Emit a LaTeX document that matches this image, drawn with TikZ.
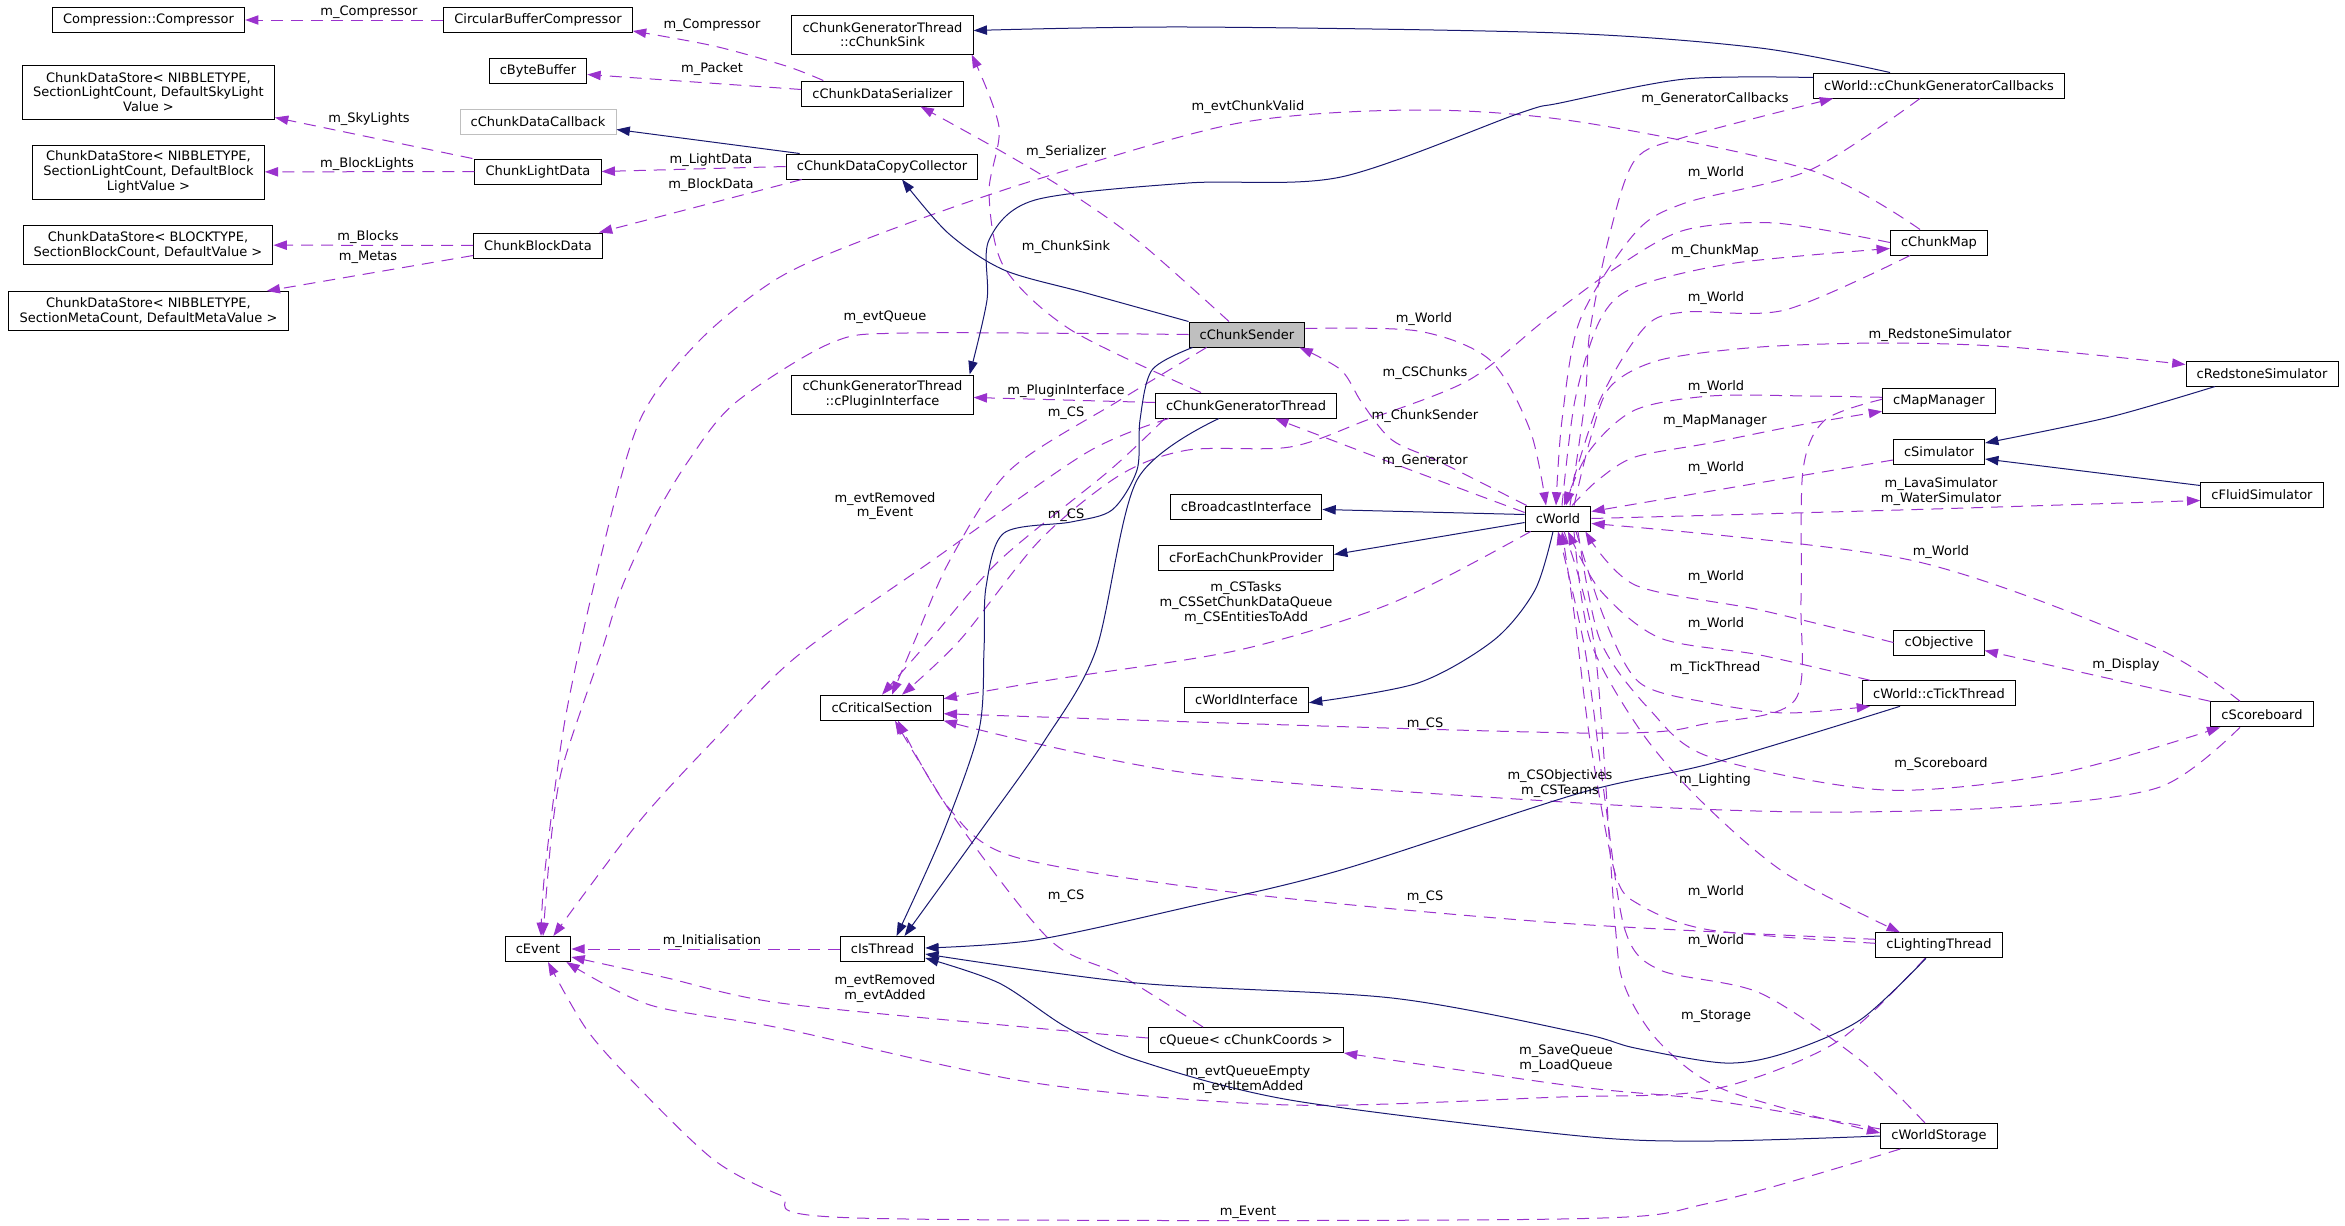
\documentclass[tikz,border=0pt]{standalone}
\usepackage{fontspec}
\setmainfont{DejaVu Sans}
\usetikzlibrary{arrows.meta,calc}
\definecolor{memberc}{RGB}{154,50,205}
\definecolor{inhc}{RGB}{25,25,112}
\definecolor{shadegray}{RGB}{191,191,191}

\begin{document}
\begin{tikzpicture}[x=0.75pt,y=-0.75pt,>={Triangle[length=10pt,width=7pt]},cls/.style={draw,line width=0.75pt,fill=white,align=center,inner xsep=8pt,inner ysep=3.75pt,minimum height=18.75pt,font=\fontsize{9.75}{11}\selectfont},member/.style={->,draw=memberc,line width=0.75pt,dash pattern=on 9pt off 6pt},inherit/.style={->,draw=inhc,line width=0.75pt},lbl/.style={inner sep=0pt,align=center,font=\fontsize{9.75}{11}\selectfont}]
\useasboundingbox (0,0) rectangle (2345,1225);
\node[cls] (comp) at (148.5,20) {Compression::Compressor}; \node[cls] (cbc) at (538,20) {CircularBufferCompressor}; \node[cls] (bytebuf) at (538,70.5) {cByteBuffer};
\node[cls,minimum height=40.5pt] (skystore) at (148.5,92) {ChunkDataStore< NIBBLETYPE,\\ SectionLightCount, DefaultSkyLight\\ Value >}; \node[cls,draw=shadegray] (callback) at (538,121.5) {cChunkDataCallback};
\node[cls,minimum height=40.5pt] (blstore) at (148.5,172) {ChunkDataStore< NIBBLETYPE,\\ SectionLightCount, DefaultBlock\\ LightValue >}; \node[cls] (lightdata) at (538,171.5) {ChunkLightData};
\node[cls,minimum height=29.25pt] (blockstore) at (148,245) {ChunkDataStore< BLOCKTYPE,\\ SectionBlockCount, DefaultValue >}; \node[cls] (blockdata) at (538,245.5) {ChunkBlockData};
\node[cls,minimum height=29.25pt] (metastore) at (148.5,311) {ChunkDataStore< NIBBLETYPE,\\ SectionMetaCount, DefaultMetaValue >};
\node[cls,minimum height=29.25pt] (sink) at (882.5,34.5) {cChunkGeneratorThread\\ ::cChunkSink}; \node[cls] (serializer) at (882.5,93.5) {cChunkDataSerializer}; \node[cls] (collector) at (882,166.5) {cChunkDataCopyCollector};
\node[cls,minimum height=29.25pt] (plugin) at (882.5,394.5) {cChunkGeneratorThread\\ ::cPluginInterface}; \node[cls] (critsec) at (882,707.7) {cCriticalSection}; \node[cls] (isthread) at (882.5,949) {cIsThread}; \node[cls] (event) at (538,949) {cEvent};
\node[cls,fill=shadegray] (sender) at (1247,334.5) {cChunkSender}; \node[cls] (genthread) at (1246,405.5) {cChunkGeneratorThread}; \node[cls] (broadcast) at (1246,506.5) {cBroadcastInterface}; \node[cls] (eachchunk) at (1246,557.5) {cForEachChunkProvider};
\node[cls] (worldif) at (1246.5,699.7) {cWorldInterface}; \node[cls] (queue) at (1246,1040) {cQueue< cChunkCoords >}; \node[cls] (world) at (1558,518.5) {cWorld};
\node[cls] (callbacks) at (1939,85.5) {cWorld::cChunkGeneratorCallbacks}; \node[cls] (chunkmap) at (1939,242.5) {cChunkMap}; \node[cls] (mapmgr) at (1939,401.3) {cMapManager}; \node[cls] (simulator) at (1939,452) {cSimulator};
\node[cls] (objective) at (1939,642.5) {cObjective}; \node[cls] (tickthread) at (1939,693.3) {cWorld::cTickThread}; \node[cls] (lighting) at (1939,945.3) {cLightingThread}; \node[cls] (storage) at (1939,1136) {cWorldStorage};
\node[cls] (redstone) at (2262,373.5) {cRedstoneSimulator}; \node[cls] (fluid) at (2262,494.5) {cFluidSimulator}; \node[cls] (scoreboard) at (2262,714.3) {cScoreboard};
\draw[member] (cbc) -- (comp); \draw[member] plot[smooth] coordinates {($(serializer.north west)+(22,0)$) (786,66) (714,46) ($(cbc.south east)+(0,-2)$)}; \draw[member] ($(serializer.west)+(0,-4)$) -- ($(bytebuf.east)+(0,4)$);
\draw[member] ($(lightdata.north west)+(-2,0)$) -- ($(skystore.south east)+(0,-2)$); \draw[member] (lightdata) -- (blstore); \draw[member] (collector.west) -- (lightdata.east); \draw[member] ($(collector.south west)+(16,0)$) -- ($(blockdata.north east)+(-4,0)$);
\draw[member] (blockdata) -- (blockstore); \draw[member] ($(blockdata.west)+(0,10)$) -- ($(metastore.north east)+(-22,0)$);
\draw[member] plot[smooth] coordinates {($(chunkmap.north)+(-19,0)$) (1810,170) (1580,122) (1418,110) (1239,123) (1035,180) (882,233) (780,277) (700,340) (640,420) (600,560) (565,720) (545,870) ($(event.north)+(3,0)$)};
\draw[member] plot[smooth] coordinates {($(sender.north)+(-18,0)$) (1137,240) (1066,190) (999,150) ($(serializer.south)+(38,0)$)};
\draw[member] plot[smooth] coordinates {($(genthread.north)+(-45,0)$) (1071,330) (1004,267) (989,193) (999,127) ($(sink.south east)+(-2,0)$)};
\draw[member] plot[smooth] coordinates {(sender.west) (907,333) (831,343) (735,403) (689,460) (653,520) (622,587) (602,650) (582,707) (561,773) (551,840) ($(event.north)+(5,0)$)};
\draw[member] plot[smooth] coordinates {($(sender.east)+(0,-6)$) (1418,331) (1490,360) (1530,430) ($(world.north)+(-12,0)$)};
\draw[member] plot[smooth] coordinates {($(world.north)+(12,0)$) (1585,400) (1590,330) (1610,233) (1635,160) (1685,137) ($(callbacks.south west)+(20,0)$)};
\draw[member] plot[smooth] coordinates {($(callbacks.south)+(-19,0)$) (1810,170) (1685,203) (1635,233) (1580,320) (1562,420) ($(world.north)+(-2,0)$)};
\draw[member] plot[smooth] coordinates {($(world.north)+(4,0)$) (1575,400) (1600,320) (1635,287) (1735,263) ($(chunkmap.west)+(0,6)$)};
\draw[member] plot[smooth] coordinates {($(chunkmap.south)+(-29,0)$) (1785,310) (1685,312) (1645,327) (1600,400) ($(world.north)+(8,0)$)};
\draw[member] ($(genthread.west)+(0,-3)$) -- ($(plugin.east)+(0,3)$);
\draw[member] plot[smooth] coordinates {($(sender.south west)+(18,0)$) (1120,400) (1010,470) (950,560) (915,640) ($(critsec.north)+(10,0)$)};
\draw[member] plot[smooth] coordinates {(chunkmap.west) (1775,223) (1685,230) (1620,265) (1545,320) (1469,380) (1367,420) (1290,447) (1188,450) (1120,475) (1040,540) (960,640) ($(critsec.north)+(20,0)$)};
\draw[member] plot[smooth] coordinates {($(world.north west)+(2,0)$) (1440,462) (1392,440) (1362,403) (1341,370) ($(sender.south east)+(-6,0)$)};
\draw[member] plot[smooth] coordinates {($(world.west)+(0,-6)$) (1400,466) ($(genthread.south)+(29,0)$)};
\draw[member] plot[smooth] coordinates {($(genthread.south west)+(14,0)$) (1086,453) (933,560) (796,657) (714,740) (638,823) ($(event.north east)+(-18,0)$)};
\draw[member] plot[smooth] coordinates {($(genthread.south west)+(10,0)$) (1110,470) (1000,560) (930,640) (critsec.north)};
\draw[member] plot[smooth] coordinates {($(world.south west)+(6,0)$) (1392,603) (1239,650) (1050,680) ($(critsec.east)+(0,-9)$)};
\draw[member] plot[smooth] coordinates {($(world.north)+(16,0)$) (1590,440) (1610,387) (1660,360) (1760,347) (1885,343) (2010,347) ($(redstone.west)+(0,-9)$)};
\draw[member] plot[smooth] coordinates {($(mapmgr.west)+(0,-4)$) (1810,396) (1710,396) (1635,410) (1590,450) ($(world.north)+(6,0)$)};
\draw[member] plot[smooth] coordinates {($(world.north)+(14,0)$) (1598,480) (1635,457) (1710,443) (1800,425) ($(mapmgr.west)+(0,10)$)};
\draw[member] ($(simulator.west)+(0,8)$) -- ($(world.east)+(0,-7)$); \draw[member] plot[smooth] coordinates {(world.east) (1900,510) ($(fluid.west)+(0,6)$)};
\draw[member] plot[smooth] coordinates {($(scoreboard.north)+(-22,0)$) (2150,645) (1910,560) ($(world.east)+(0,5)$)};
\draw[member] plot[smooth] coordinates {(objective.west) (1760,610) (1635,585) ($(world.south east)+(-6,0)$)};
\draw[member] plot[smooth] coordinates {($(tickthread.north west)+(8,0)$) (1760,655) (1660,638) (1600,590) ($(world.south)+(10,0)$)};
\draw[member] plot[smooth] coordinates {($(mapmgr.west)+(0,-2)$) (1825,420) (1803,470) (1801,600) (1795,700) (1710,723) (1580,733) ($(critsec.east)+(0,6)$)};
\draw[member] plot[smooth] coordinates {($(scoreboard.south)+(-22,0)$) (2160,787) (2010,807) (1810,812) (1580,803) (1188,773) (critsec.south east)};
\draw[member] plot[smooth] coordinates {($(queue.north)+(-43,0)$) (1120,975) (1050,940) (958,823) ($(critsec.south)+(13,0)$)};
\draw[member] plot[smooth] coordinates {($(lighting.west)+(0,-6)$) (1560,923) (1239,893) (1015,857) (948,807) ($(critsec.south)+(16,0)$)};
\draw[member] plot[smooth] coordinates {($(world.south)+(18,0)$) (1605,620) (1640,683) (1710,703) (1785,713) ($(tickthread.south west)+(8,0)$)};
\draw[member] ($(scoreboard.north west)$) -- ($(objective.east)+(0,8)$);
\draw[member] plot[smooth] coordinates {($(world.south)+(20,0)$) (1600,640) (1650,710) (1710,757) (1885,790) (2060,773) ($(scoreboard.south west)+(10,0)$)};
\draw[member] plot[smooth] coordinates {($(world.south)+(16,0)$) (1590,640) (1640,730) (1700,800) (1785,873) ($(lighting.north)+(-39,0)$)};
\draw[member] plot[smooth] coordinates {($(lighting.west)+(0,-2)$) (1710,930) (1640,905) (1615,873) (1590,740) (1575,620) ($(world.south)+(4,0)$)};
\draw[member] (isthread) -- (event);
\draw[member] plot[smooth] coordinates {($(queue.west)+(0,-2)$) (1035,1028) (780,1003) (663,977) ($(event.east)+(0,8)$)};
\draw[member] plot[smooth] coordinates {($(lighting.south)+(-14,0)$) (1835,1043) (1710,1090) (1560,1097) (1290,1105) (1035,1083) (780,1028) (650,1005) ($(event.south east)+(-5,0)$)};
\draw[member] plot[smooth] coordinates {($(storage.west)+(0,-7)$) (1710,1100) (1580,1087) (queue.south east)};
\draw[member] plot[smooth] coordinates {($(storage.south west)+(20,0)$) (1710,1203) (1560,1219) (857,1218) (780,1195) (714,1160) (638,1087) (587,1030) ($(event.south)+(10,0)$)};
\draw[member] plot[smooth] coordinates {($(storage.north)+(-14,0)$) (1860,1060) (1760,993) (1660,970) (1625,930) (1605,800) (1585,650) (world.south)};
\draw[member] plot[smooth] coordinates {($(world.south)+(6,0)$) (1595,650) (1615,923) (1625,987) (1660,1043) (1725,1090) ($(storage.west)+(0,-3)$)};
\draw[inherit] ($(collector.north west)+(14,0)$) -- ($(callback.east)+(0,8)$);
\draw[inherit] plot[smooth] coordinates {(sender.north west) (1086,293) (1004,270) (948,233) ($(collector.south)+(20,0)$)};
\draw[inherit] plot[smooth] coordinates {($(callbacks.north)+(-49,0)$) (1760,48) (1560,33) (1188,27) ($(sink.east)+(0,-4)$)};
\draw[inherit] plot[smooth] coordinates {($(callbacks.west)+(0,-8)$) (1685,79) (1560,103) (1520,113) (1341,177) (1188,183) (1035,200) (989,240) (987,300) ($(plugin.north east)+(-4,0)$)};
\draw[inherit] ($(world.west)+(0,-4)$) -- ($(broadcast.east)+(0,3)$); \draw[inherit] ($(world.west)+(0,4)$) -- ($(eachchunk.east)+(0,-3)$);
\draw[inherit] plot[smooth] coordinates {($(world.south)+(-5,0)$) (1535,590) (1494,640) (1418,683) ($(worldif.east)+(0,3)$)};
\draw[inherit] plot[smooth] coordinates {($(redstone.south)+(-47,0)$) (2110,417) ($(simulator.east)+(0,-9)$)}; \draw[inherit] ($(fluid.north west)+(0,4)$) -- ($(simulator.east)+(0,7)$);
\draw[inherit] plot[smooth] coordinates {($(sender.south west)+(4,0)$) (1152,370) (1140,420) (1137,470) (1112,510) (1071,522) (1004,533) (986,587) (984,650) (979,730) (943,833) ($(isthread.north)+(14,0)$)};
\draw[inherit] plot[smooth] coordinates {($(genthread.south)+(-27,0)$) (1137,480) (1096,650) (1045,740) (979,833) ($(isthread.north)+(22,0)$)};
\draw[inherit] plot[smooth] coordinates {($(tickthread.south)+(-39,0)$) (1713,763) (1580,793) (1341,870) (1188,907) (1035,940) ($(isthread.east)+(0,-1)$)};
\draw[inherit] plot[smooth] coordinates {($(lighting.south)+(-13,0)$) (1860,1020) (1785,1053) (1725,1063) (1635,1048) (1580,1033) (1392,998) (1137,983) ($(isthread.east)+(0,5)$)};
\draw[inherit] plot[smooth] coordinates {(storage.west) (1710,1141) (1580,1136) (1290,1100) (1137,1060) (1066,1027) (999,983) ($(isthread.east)+(0,9)$)};
\node[lbl] (lcomp1) at (369,12) {m\_Compressor}; \node[lbl] (lcomp2) at (712,25) {m\_Compressor}; \node[lbl] (lpacket) at (712,69) {m\_Packet}; \node[lbl] (lsky) at (369,119) {m\_SkyLights};
\node[lbl] (lblight) at (367,164) {m\_BlockLights}; \node[lbl] (llight) at (711,160) {m\_LightData}; \node[lbl] (lbdata) at (711,185) {m\_BlockData}; \node[lbl] (lblocks) at (368,237) {m\_Blocks}; \node[lbl] (lmetas) at (368,257) {m\_Metas};
\node[lbl] (lvalid) at (1248,107) {m\_evtChunkValid}; \node[lbl] (lser) at (1066,152) {m\_Serializer}; \node[lbl] (lsink) at (1066,247) {m\_ChunkSink}; \node[lbl] (lqueue) at (885,317) {m\_evtQueue}; \node[lbl] (lworld1) at (1424,319) {m\_World};
\node[lbl] (lgencb) at (1715,99) {m\_GeneratorCallbacks}; \node[lbl] (lworld2) at (1716,173) {m\_World}; \node[lbl] (lcmap) at (1715,251) {m\_ChunkMap}; \node[lbl] (lworld3) at (1716,298) {m\_World};
\node[lbl] (lplugin) at (1066,391) {m\_PluginInterface}; \node[lbl] (lcs1) at (1066,413) {m\_CS}; \node[lbl] (lcsch) at (1425,373) {m\_CSChunks}; \node[lbl] (lsender) at (1425,416) {m\_ChunkSender}; \node[lbl] (lgen) at (1425,461) {m\_Generator};
\node[lbl] (lremev) at (885,506) {m\_evtRemoved\\m\_Event}; \node[lbl] (lcs2) at (1066,515) {m\_CS}; \node[lbl] (lcstasks) at (1246,603) {m\_CSTasks\\m\_CSSetChunkDataQueue\\m\_CSEntitiesToAdd};
\node[lbl] (lred) at (1940,335) {m\_RedstoneSimulator}; \node[lbl] (lworld4) at (1716,387) {m\_World}; \node[lbl] (lmapmgr) at (1715,421) {m\_MapManager}; \node[lbl] (lworld5) at (1716,468) {m\_World};
\node[lbl] (lfluid) at (1941,491.5) {m\_LavaSimulator\\m\_WaterSimulator}; \node[lbl] (lworld6) at (1941,552) {m\_World}; \node[lbl] (lworld7) at (1716,577) {m\_World}; \node[lbl] (lworld8) at (1716,624) {m\_World};
\node[lbl] (lcs3) at (1425,724) {m\_CS}; \node[lbl] (lcsobj) at (1560,783.5) {m\_CSObjectives\\m\_CSTeams}; \node[lbl] (lcs4) at (1066,896) {m\_CS}; \node[lbl] (lcs5) at (1425,897) {m\_CS};
\node[lbl] (ltick) at (1715,668) {m\_TickThread}; \node[lbl] (ldisplay) at (2126,665) {m\_Display}; \node[lbl] (lscore) at (1941,764) {m\_Scoreboard}; \node[lbl] (llighting) at (1715,780) {m\_Lighting}; \node[lbl] (lworld9) at (1716,892) {m\_World};
\node[lbl] (linit) at (712,941) {m\_Initialisation}; \node[lbl] (lremadd) at (885,988.5) {m\_evtRemoved\\m\_evtAdded}; \node[lbl] (lqempty) at (1248,1079.5) {m\_evtQueueEmpty\\m\_evtItemAdded};
\node[lbl] (lsaveq) at (1566,1058.5) {m\_SaveQueue\\m\_LoadQueue}; \node[lbl] (levent) at (1248,1212) {m\_Event}; \node[lbl] (lworld10) at (1716,941) {m\_World}; \node[lbl] (lstorage) at (1716,1016) {m\_Storage};
\end{tikzpicture}
\end{document}
